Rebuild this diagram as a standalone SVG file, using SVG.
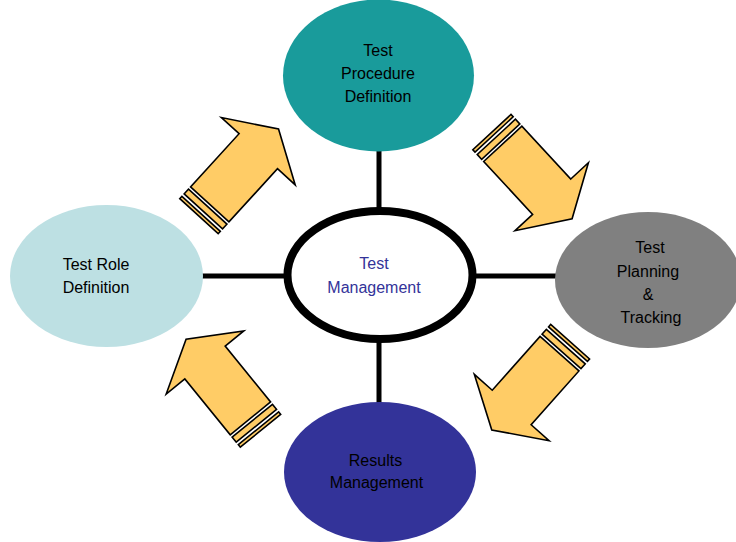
<svg xmlns="http://www.w3.org/2000/svg" width="736" height="542" viewBox="0 0 736 542">
  <style>
    text { font-family: "Liberation Sans", Arial, sans-serif; font-size: 16px; text-anchor: middle; fill: #000; }
    .arrow { fill: #FFCC66; stroke: #000; stroke-width: 1.6; stroke-linejoin: miter; }
    .conn { stroke: #000; stroke-width: 5; fill: none; }
  </style>
  <defs>
    <g id="striped-arrow">
      <path class="arrow" d="M0,-26 L0,-50 L30,0 L0,50 L0,26 L-72,26 L-72,-26 Z"/>
      <rect class="arrow" x="-81.5" y="-26" width="6.5" height="52"/>
      <rect class="arrow" x="-88" y="-26" width="3.2" height="52"/>
    </g>
  </defs>
  <rect width="736" height="542" fill="#fff"/>

  <g id="connectors">
    <line class="conn" x1="379" y1="148" x2="379" y2="212"/>
    <line class="conn" x1="379" y1="338" x2="379" y2="406"/>
    <line class="conn" x1="201" y1="276" x2="290" y2="276"/>
    <line class="conn" x1="470" y1="276" x2="558" y2="276"/>
  </g>

  <g id="arrows">
    <use href="#striped-arrow" transform="translate(258.3,151.2) rotate(-47.6)"/>
    <use href="#striped-arrow" transform="translate(551.7,196.7) rotate(47.2)"/>
    <use href="#striped-arrow" transform="translate(511.7,407.5) rotate(131.6)"/>
    <use href="#striped-arrow" transform="translate(205,362.5) rotate(-129.1)"/>
  </g>

  <g id="node-procedure">
    <ellipse cx="378.5" cy="75.5" rx="95.5" ry="76" fill="#199B9B"/>
    <text x="378" y="56">Test</text>
    <text x="378" y="79.3">Procedure</text>
    <text x="378" y="102.3">Definition</text>
  </g>

  <g id="node-role">
    <ellipse cx="106.5" cy="276" rx="96.5" ry="71" fill="#BDE0E3"/>
    <text x="96" y="270">Test Role</text>
    <text x="96" y="293.3">Definition</text>
  </g>

  <g id="node-planning">
    <ellipse cx="648" cy="280" rx="93" ry="68" fill="#808080"/>
    <text x="650" y="253.3">Test</text>
    <text x="648" y="276.7">Planning</text>
    <text x="648" y="300">&amp;</text>
    <text x="651" y="322.7">Tracking</text>
  </g>

  <g id="node-results">
    <ellipse cx="380" cy="472" rx="96" ry="70" fill="#333399"/>
    <text x="375.5" y="465.7">Results</text>
    <text x="376.5" y="488.3">Management</text>
  </g>

  <g id="node-center">
    <ellipse cx="380" cy="275" rx="92.5" ry="64" fill="#fff" stroke="#000" stroke-width="8"/>
    <text x="374" y="269.3" fill="#333399" style="fill:#333399">Test</text>
    <text x="374" y="293.3" style="fill:#333399">Management</text>
  </g>
</svg>
